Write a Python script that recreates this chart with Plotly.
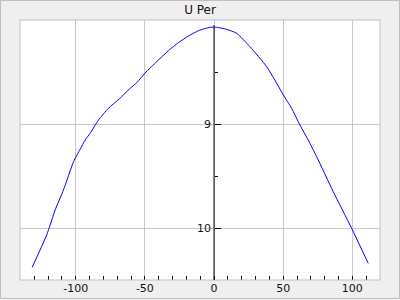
import plotly.graph_objects as go

title = "U Per"
x_vals = [-131.5, -121.0, -114.9, -108.9, -101.6, -96.8, -93.2, -89.6, -83.6, -76.4,
          -68.4, -60.7, -55.9, -49.9, -41.4, -33.0, -25.8, -18.6, -11.3, -2.9,
          1.9, 9.2, 16.4, 26.0, 38.1, 45.3, 50.1, 56.1, 62.1, 68.1,
          74.2, 86.2, 99.5, 111.5]
u_per = [10.378, 10.067, 9.827, 9.635, 9.362, 9.243, 9.154, 9.09, 8.962, 8.849,
         8.757, 8.657, 8.603, 8.51, 8.40, 8.295, 8.218, 8.154, 8.103, 8.07,
         8.07, 8.09, 8.128, 8.257, 8.449, 8.609, 8.721, 8.849, 9.01, 9.154,
         9.314, 9.651, 10.003, 10.34]
x_ticks = [-100, -50, 0, 50, 100]
x_tick_text = ["-100", "-50", "0", "50", "100"]
y_ticks = [9, 10]
y_tick_text = ["9", "10"]

XR = [-140.3, 120.0]
YR = [10.5, 8.0]
ypos = (0 - XR[0]) / (XR[1] - XR[0])

fig = go.Figure()
fig.add_trace(go.Scatter(x=x_vals, y=u_per, mode="lines",
                         line=dict(color="#0000ff", width=1, shape="spline", smoothing=0.5),
                         hoverinfo="skip"))

W, H = 400, 300
ml, mr, mt, mb = 20, 20, 20, 20
pw, ph = W - ml - mr, H - mt - mb

fig.update_layout(
    width=W, height=H,
    margin=dict(l=ml, r=mr, t=mt, b=mb, pad=0),
    paper_bgcolor="#efefef",
    plot_bgcolor="#ffffff",
    showlegend=False,
    font=dict(family="DejaVu Sans", size=11, color="#111111"),
    title=dict(text=title, x=0.5, xanchor="center", y=1 - 10 / H, yanchor="middle",
               yref="container", font=dict(size=12, color="#111111")),
    xaxis=dict(range=XR, showgrid=True, gridcolor="#c8c8c8", gridwidth=1,
               automargin=False,
               tickmode="array", tickvals=x_ticks, ticktext=x_tick_text,
               ticks="inside", ticklen=4, tickcolor="#000000",
               minor=dict(dtick=10, tick0=0, ticks="inside", ticklen=4, tickcolor="#000000", showgrid=False),
               showline=False, zeroline=False, tickfont=dict(size=11)),
    yaxis=dict(range=YR, anchor="free", position=ypos, side="left",
               automargin=False, ticklabelstandoff=3,
               showgrid=True, gridcolor="#c8c8c8", gridwidth=1,
               tickmode="array", tickvals=y_ticks, ticktext=y_tick_text,
               ticks="inside", ticklen=6, tickcolor="#000000",
               minor=dict(dtick=0.5, tick0=8, ticks="inside", ticklen=3, tickcolor="#000000", showgrid=False),
               showline=False, zeroline=False, tickfont=dict(size=11)),
)

# plot area border
fig.add_shape(type="rect", xref="paper", yref="paper", x0=0, x1=1, y0=0, y1=1,
              line=dict(color="#c0c0c0", width=1), layer="above")
# outer border
fig.add_shape(type="rect", xref="paper", yref="paper",
              x0=(-ml + 0.5) / pw, x1=1 + (mr - 0.5) / pw,
              y0=(-mb + 1.5) / ph, y1=1 + (mt - 0.5) / ph,
              line=dict(color="#c0c0c0", width=1), layer="below")
# vertical axis line at x = 0
fig.add_shape(type="line", xref="x", yref="y", x0=0, x1=0, y0=8.048, y1=10.5,
              line=dict(color="#000000", width=1), layer="above")

fig.write_html("out.html")
